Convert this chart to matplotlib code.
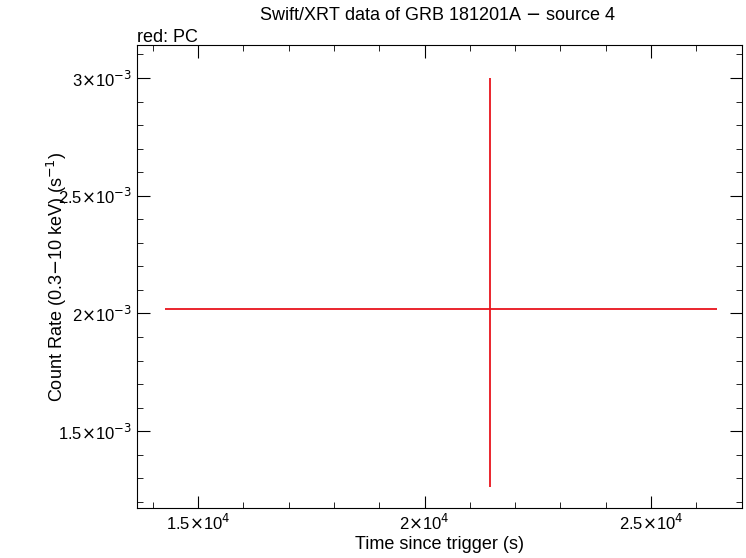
import matplotlib
matplotlib.use("Agg")
import matplotlib.pyplot as plt
from matplotlib.ticker import MultipleLocator

plt.rcParams['font.family'] = ['Liberation Sans', 'DejaVu Sans']

t = [21446]
t_lo = [21446 - 14272]
t_hi = [26457 - 21446]
rate = [2.017e-3]
rate_lo = [2.017e-3 - 1.263e-3]
rate_hi = [3.0e-3 - 2.017e-3]

xticks = [1.5e4, 2e4, 2.5e4]
xlabels = [r'1.5$\times$10$^4$', r'2$\times$10$^4$', r'2.5$\times$10$^4$']
yticks = [1.5e-3, 2e-3, 2.5e-3, 3e-3]
ylabels = [r'1.5$\times$10$^{-3}$', r'2$\times$10$^{-3}$', r'2.5$\times$10$^{-3}$', r'3$\times$10$^{-3}$']

fig = plt.figure(figsize=(7.46, 5.58), dpi=100)
ax = fig.add_axes([137/746, 1-508/558, (742-137)/746, (508-45)/558])
ax.errorbar(t, rate, xerr=[t_lo, t_hi], yerr=[rate_lo, rate_hi], fmt='none', ecolor='#e8141c', elinewidth=1.3, capsize=0)
ax.set_xlim(13653, 27009)
ax.set_ylim(1.174e-3, 3.14e-3)
ax.set_xticks(xticks); ax.set_xticklabels(xlabels)
ax.set_yticks(yticks); ax.set_yticklabels(ylabels)
ax.xaxis.set_minor_locator(MultipleLocator(1000))
ax.yaxis.set_minor_locator(MultipleLocator(0.1e-3))
ax.tick_params(which='both', direction='in', top=True, right=True, labelsize=12)
ax.tick_params(which='major', length=9)
ax.tick_params(which='minor', length=4)
ax.set_xlabel('Time since trigger (s)', fontsize=13, labelpad=2)
ax.set_ylabel(r'Count Rate (0.3$-$10 keV) (s$^{-1}$)', fontsize=13, labelpad=-8)
fig.text(437/746, 1-20/558, r'Swift/XRT data of GRB 181201A $-$ source 4', ha='center', fontsize=13)
fig.text(137/746, 1-42/558, 'red: PC', ha='left', fontsize=13)
fig.savefig('out.png', dpi=100)
